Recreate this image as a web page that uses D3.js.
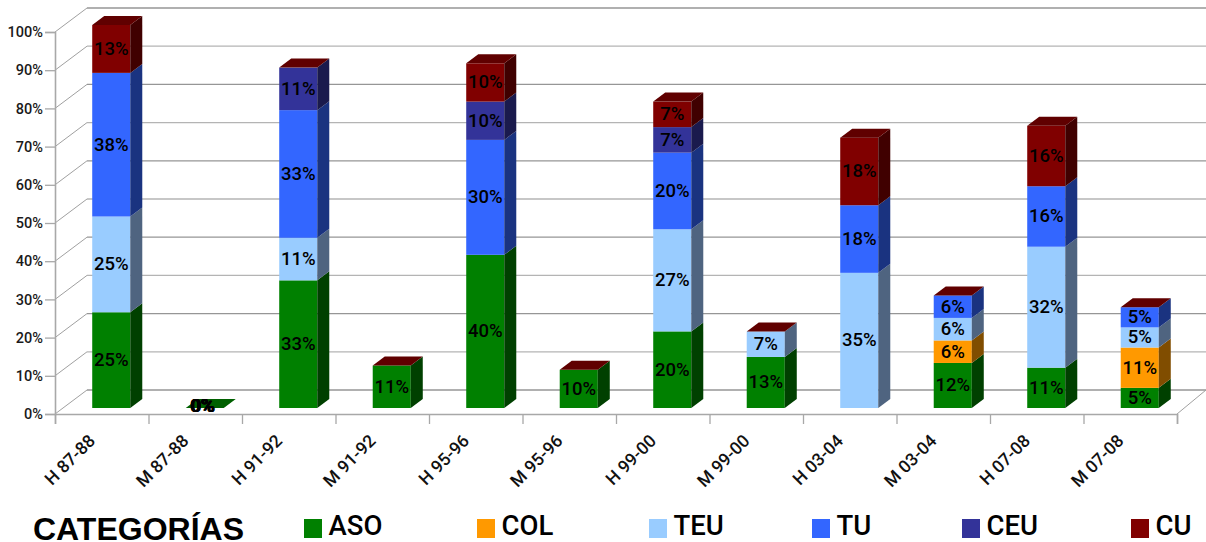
<!DOCTYPE html>
<html><head><meta charset="utf-8">
<script src="https://cdn.jsdelivr.net/npm/d3@7"></script>
<style>html,body{margin:0;padding:0;background:#fff}svg{display:block}
.axis text{font-family:Roboto,sans-serif}</style></head>
<body><svg id="c" width="1206" height="542"></svg>
<script>
const categories = ["H 87-88","M 87-88","H 91-92","M 91-92","H 95-96","M 95-96","H 99-00","M 99-00","H 03-04","M 03-04","H 07-08","M 07-08"];
const seriesNames = ["ASO","COL","TEU","TU","CEU","CU"];
const ASO = [25,0,33.33,11.11,40,10,20,13.33,0,11.76,10.53,5.26];
const COL = [0,0,0,0,0,0,0,0,0,5.88,0,10.53];
const TEU = [25,0,11.11,0,0,0,26.67,6.67,35.29,5.88,31.58,5.26];
const TU  = [37.5,0,33.33,0,30,0,20,0,17.65,5.88,15.79,5.26];
const CEU = [0,0,11.11,0,10,0,6.67,0,0,0,0,0];
const CU  = [12.5,0,0,0,10,0,6.67,0,17.65,0,15.79,0];
const colours = ["#008000","#FF9900","#99CCFF","#3366FF","#333399","#800000"];
const sideColours = ["#004000","#804D00","#4F6480","#1A3380","#1A1A4D","#400000"];
const yTicks = [0,10,20,30,40,50,60,70,80,90,100];
const legendX = [304,477,649,812,962,1131];

const values = {ASO,COL,TEU,TU,CEU,CU};
const rows = categories.map((c,i)=>{const r={cat:c};seriesNames.forEach(s=>r[s]=values[s][i]);return r;});
const stacked = d3.stack().keys(seriesNames)(rows);

const svg = d3.select("#c");
const plotL=55,plotR=1177,front0=414,front100=32,wallDx=32,wallDy=24;
const barDx=12,barDy=9;
const y = d3.scaleLinear().domain([0,100]).range([front0,front100]);
const yBar = d3.scaleLinear().domain([0,100]).range([408,25]);
const x = d3.scaleBand().domain(categories).range([plotL,plotR]).paddingInner(0.593).paddingOuter(0.2965);
const barOffset = 9.5;

// floor + walls
const grid = svg.append("g");
grid.selectAll("line.back").data(yTicks).join("line").attr("class","back")
  .attr("x1",plotL+wallDx).attr("x2",1206)
  .attr("y1",d=>y(d)-wallDy).attr("y2",d=>y(d)-wallDy)
  .attr("stroke",(d,i)=>i%2?"#b4b4b4":"#969696").attr("stroke-width",1.3);
grid.selectAll("line.side").data(yTicks).join("line").attr("class","side")
  .attr("x1",plotL).attr("x2",plotL+wallDx)
  .attr("y1",d=>y(d)).attr("y2",d=>y(d)-wallDy)
  .attr("stroke","#a0a0a0").attr("stroke-width",1);
grid.append("line").attr("x1",plotR).attr("y1",front0).attr("x2",1206).attr("y2",front0-wallDy)
  .attr("stroke","#a0a0a0").attr("stroke-width",1);

// axes
const yAxis = svg.append("g").attr("class","axis").attr("transform",`translate(${plotL},0)`)
  .call(d3.axisLeft(y).tickValues(yTicks).tickSize(10).tickPadding(2).tickFormat(d=>d+"%"));
yAxis.select(".domain").attr("stroke","#a8a8a8").attr("stroke-width",1.6);
yAxis.selectAll("line").attr("stroke","#a8a8a8").attr("stroke-width",1.3);
yAxis.selectAll("text").attr("font-size",14.5).attr("fill","#1a1a1a").attr("font-weight",500);

const xEdges = d3.scaleLinear().domain([0,categories.length]).range([plotL,plotR]);
const xAxis = svg.append("g").attr("class","axis").attr("transform",`translate(0,${front0})`)
  .call(d3.axisBottom(xEdges).tickValues(d3.range(categories.length+1)).tickSize(10).tickFormat(()=>""));
xAxis.select(".domain").attr("stroke","#a8a8a8").attr("stroke-width",1.6);
xAxis.selectAll("line").attr("stroke","#a8a8a8").attr("stroke-width",1.3);

svg.append("g").selectAll("text").data(categories).join("text")
  .attr("transform",d=>`translate(${x(d)+x.bandwidth()/2-barOffset+4},${front0+28}) rotate(-45)`)
  .attr("text-anchor","end")
  .attr("font-family","Roboto,sans-serif").attr("font-size",17.5).attr("font-weight",500).attr("fill","#111")
  .text(d=>d);

// bars
const bx = d=>x(d.data.cat)+barOffset;
const bw = x.bandwidth();
const bars = svg.append("g");
stacked.forEach((layer,si)=>{
  const g = bars.append("g");
  layer.forEach(d=>{
    if (d[1]===d[0]) return;
    const X=bx(d), t=yBar(d[1]), b=yBar(d[0]);
    g.append("rect").attr("x",X).attr("y",t).attr("width",bw).attr("height",b-t).attr("fill",colours[si]);
    g.append("path").attr("d",`M${X+bw},${t}L${X+bw+barDx},${t-barDy}L${X+bw+barDx},${b-barDy}L${X+bw},${b}Z`).attr("fill",sideColours[si]);
  });
});
// top faces
const topLayer = stacked[stacked.length-1];
bars.append("g").selectAll("path").data(topLayer).join("path")
  .attr("d",d=>{const X=bx(d),t=yBar(d[1]);return `M${X},${t}L${X+barDx},${t-barDy}L${X+bw+barDx},${t-barDy}L${X+bw},${t}Z`;})
  .attr("fill",d=>d[1]===0?"#006000":"#600000");

// labels
const labels = svg.append("g").attr("font-family","Roboto,sans-serif").attr("font-size",18.5).attr("font-weight",500).attr("fill","#000").attr("text-anchor","middle");
stacked.forEach((layer,si)=>{
  layer.forEach((d,i)=>{
    const total=topLayer[i][1], v=d[1]-d[0];
    if (v===0 && total!==0) return;
    labels.append("text")
      .attr("x",bx(d)+bw/2+(total===0?si*0.3-3:0))
      .attr("y",(yBar(d[0])+yBar(d[1]))/2-(total===0?3:0.8))
      .attr("dy","0.36em")
      .text(Math.round(v)+"%");
  });
});

// legend
svg.append("text").attr("x",33).attr("y",539.5).attr("font-family","'Liberation Sans',sans-serif")
  .attr("font-weight",700).attr("font-size",32).attr("fill","#000").text("CATEGORÍAS");
const lg = svg.append("g").selectAll("g").data(seriesNames).join("g")
  .attr("transform",(d,i)=>`translate(${legendX[i]},519)`);
lg.append("rect").attr("width",18).attr("height",19).attr("fill",(d,i)=>colours[i]);
lg.append("text").attr("x",24.5).attr("y",16).attr("font-family","Roboto,sans-serif").attr("font-weight",500)
  .attr("font-size",27.5).attr("fill","#000").text(d=>d);
</script></body></html>
